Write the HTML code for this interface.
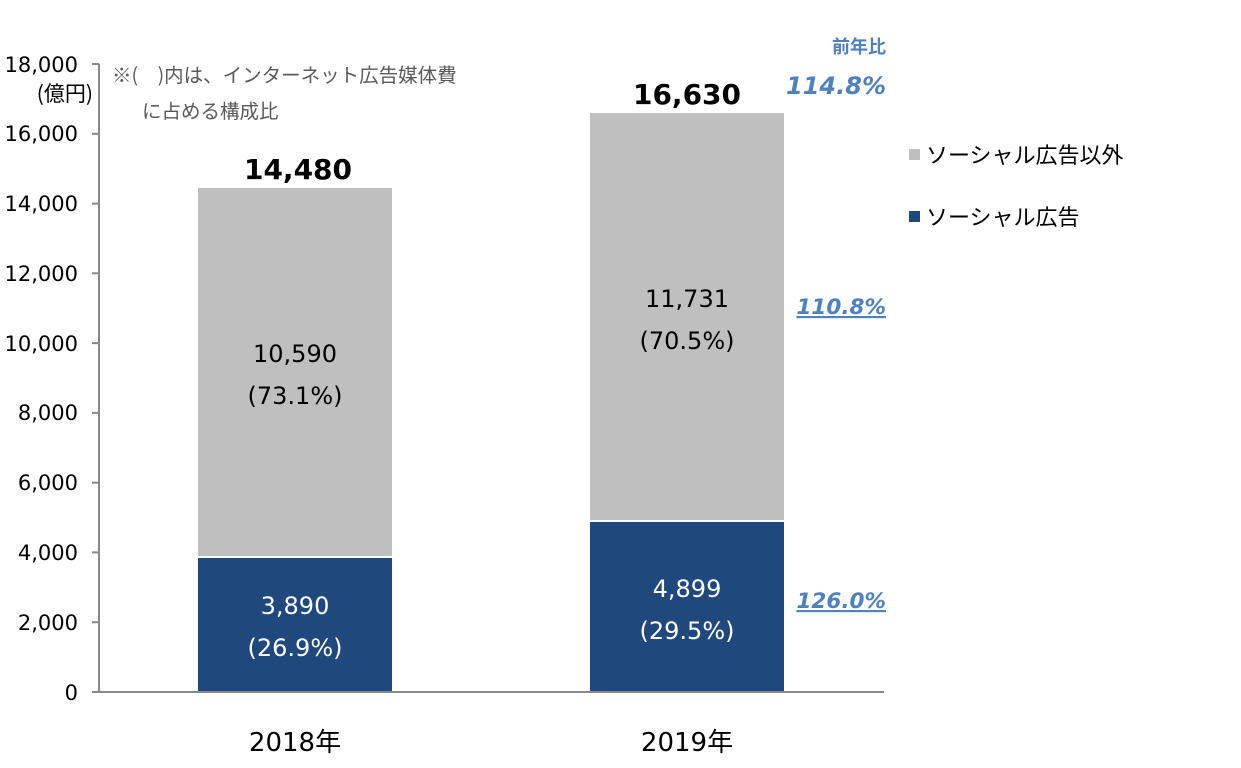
<!DOCTYPE html>
<html><head><meta charset="utf-8"><style>
html,body{margin:0;padding:0;background:#fff;}
svg{display:block;font-family:"DejaVu Sans","Noto Sans CJK JP",sans-serif;}
.jp{font-family:"Noto Sans CJK JP",sans-serif;}
</style></head><body>
<svg width="1241" height="768" viewBox="0 0 1241 768" xmlns="http://www.w3.org/2000/svg">
<rect x="198" y="188" width="194" height="368" fill="#bfbfbf"/>
<rect x="198" y="558" width="194" height="134" fill="#1f497d"/>
<rect x="590" y="113" width="194" height="407" fill="#bfbfbf"/>
<rect x="590" y="522" width="194" height="170" fill="#1f497d"/>
<g stroke="#898989" stroke-width="2">
<line x1="99" y1="64" x2="99" y2="693"/>
<line x1="92" y1="692" x2="884" y2="692"/>
<line x1="92" y1="622.2" x2="99" y2="622.2"/>
<line x1="92" y1="552.4" x2="99" y2="552.4"/>
<line x1="92" y1="482.7" x2="99" y2="482.7"/>
<line x1="92" y1="412.9" x2="99" y2="412.9"/>
<line x1="92" y1="343.1" x2="99" y2="343.1"/>
<line x1="92" y1="273.3" x2="99" y2="273.3"/>
<line x1="92" y1="203.6" x2="99" y2="203.6"/>
<line x1="92" y1="133.8" x2="99" y2="133.8"/>
<line x1="92" y1="64" x2="99" y2="64"/>
</g>
<g font-size="21" fill="#000" text-anchor="end">
<text x="78" y="700">0</text>
<text x="78" y="630">2,000</text>
<text x="78" y="560">4,000</text>
<text x="78" y="490">6,000</text>
<text x="78" y="420">8,000</text>
<text x="78" y="351">10,000</text>
<text x="78" y="281">12,000</text>
<text x="78" y="211">14,000</text>
<text x="78" y="141">16,000</text>
<text x="78" y="72">18,000</text>
<text x="93" y="101" class="jp" font-size="21">(億円)</text>
</g>
<g font-size="19.5" fill="#595959" class="jp">
<text x="112" y="82">※(　)内は、インターネット広告媒体費</text>
<text x="142" y="118">に占める構成比</text>
</g>
<g font-size="26" fill="#000" text-anchor="middle">
<text x="295" y="751">2018年</text>
<text x="687" y="751">2019年</text>
</g>
<g font-size="28" font-weight="bold" fill="#000" text-anchor="middle">
<text x="298" y="179">14,480</text>
<text x="687" y="104">16,630</text>
</g>
<g font-size="24" fill="#000" text-anchor="middle">
<text x="295" y="362">10,590</text>
<text x="295" y="404">(73.1%)</text>
<text x="687" y="307">11,731</text>
<text x="687" y="349">(70.5%)</text>
</g>
<g font-size="24" fill="#fff" text-anchor="middle">
<text x="295" y="614">3,890</text>
<text x="295" y="656">(26.9%)</text>
<text x="687" y="597">4,899</text>
<text x="687" y="639">(29.5%)</text>
</g>
<g fill="#4f81bd" font-weight="bold" font-style="italic" text-anchor="end">
<text x="886" y="53" font-size="18" font-style="normal" class="jp">前年比</text>
<text x="886" y="94" font-size="24">114.8%</text>
<text x="886" y="314" font-size="21.5" text-decoration="underline">110.8%</text>
<text x="886" y="608" font-size="21.5" text-decoration="underline">126.0%</text>
</g>
<rect x="909" y="149" width="11" height="11" fill="#bfbfbf"/>
<rect x="909" y="211" width="11" height="11" fill="#1f497d"/>
<g font-size="22" fill="#000" class="jp">
<text x="926" y="163">ソーシャル広告以外</text>
<text x="926" y="225">ソーシャル広告</text>
</g>
</svg>
</body></html>
